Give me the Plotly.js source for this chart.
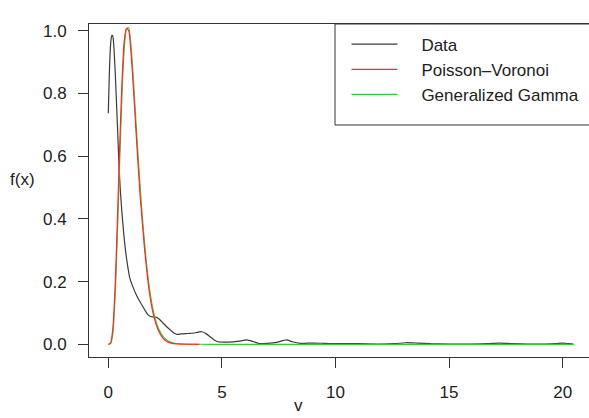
<!DOCTYPE html>
<html>
<head>
<meta charset="utf-8">
<script src="https://cdn.plot.ly/plotly-3.0.1.min.js"></script>
<style>html,body{margin:0;padding:0;background:#fff;}#chart{width:589px;height:418px;}</style>
</head>
<body>
<div id="chart"></div>
<script>
// Data (kernel density of observed volumes)
var dataX = [0, 0.04, 0.08, 0.12, 0.16, 0.19, 0.23, 0.31, 0.40, 0.47, 0.53, 0.59, 0.67, 0.74, 0.81, 0.95, 1.1, 1.25, 1.4, 1.54, 1.65, 1.76, 1.9, 2.0, 2.13, 2.25, 2.42, 2.57, 2.72, 2.87, 3.01, 3.2, 3.4, 3.6, 3.8, 3.95, 4.11, 4.3, 4.48, 4.66, 4.84, 5.1, 5.5, 5.8, 6.09, 6.4, 6.68, 7.0, 7.4, 7.85, 8.1, 8.44, 9.0, 9.5, 10, 11, 12, 12.6, 13.1, 13.6, 14.2, 15, 16, 16.7, 17.2, 17.8, 18.5, 19.2, 19.7, 20.0, 20.3, 20.46];
var dataY = [0.737, 0.85, 0.93, 0.972, 0.985, 0.984, 0.965, 0.858, 0.70, 0.572, 0.49, 0.43, 0.36, 0.31, 0.27, 0.21, 0.18, 0.155, 0.135, 0.118, 0.104, 0.093, 0.088, 0.087, 0.086, 0.08, 0.067, 0.056, 0.046, 0.037, 0.032, 0.033, 0.034, 0.035, 0.036, 0.039, 0.040, 0.034, 0.024, 0.014, 0.008, 0.007, 0.008, 0.010, 0.014, 0.008, 0.002, 0.003, 0.006, 0.014, 0.008, 0.003, 0.004, 0.003, 0.002, 0.002, 0.001, 0.002, 0.005, 0.004, 0.002, 0.001, 0.001, 0.002, 0.004, 0.002, 0.001, 0.001, 0.002, 0.004, 0.002, 0.001];

// Poisson-Voronoi fit
var pvX = [0, 0.1, 0.2, 0.3, 0.4, 0.5, 0.6, 0.7, 0.8, 0.9, 1.0, 1.1, 1.2, 1.3, 1.4, 1.5, 1.6, 1.7, 1.8, 1.9, 2.0, 2.2, 2.4, 2.6, 2.8, 3.0, 3.5, 4.0];
var pvY = [0, 0.004, 0.05, 0.185, 0.397, 0.631, 0.833, 0.967, 1.008, 1.0, 0.929, 0.822, 0.701, 0.585, 0.475, 0.385, 0.3, 0.23, 0.17, 0.125, 0.09, 0.045, 0.02, 0.008, 0.003, 0.0015, 0.0002, 0];

// Generalized Gamma fit
var ggX = [0, 0.1, 0.2, 0.3, 0.4, 0.5, 0.6, 0.7, 0.8, 0.9, 1.0, 1.1, 1.2, 1.3, 1.4, 1.5, 1.6, 1.7, 1.8, 1.9, 2.0, 2.2, 2.4, 2.6, 2.8, 3.0, 3.5, 4, 5, 6, 8, 10, 12, 14, 16, 18, 20, 20.5];
var ggY = [0, 0.002, 0.035, 0.15, 0.35, 0.58, 0.79, 0.94, 1.005, 1.01, 0.95, 0.85, 0.73, 0.615, 0.505, 0.405, 0.32, 0.245, 0.185, 0.137, 0.1, 0.052, 0.026, 0.012, 0.0055, 0.0025, 0.0004, 0.0001, 0, 0, 0, 0, 0, 0, 0, 0, 0, 0];

var names = ["Data", "Poisson\u2013Voronoi", "Generalized Gamma"];
var xTicks = [0, 5, 10, 15, 20];
var yTicks = [0, 0.2, 0.4, 0.6, 0.8, 1.0];
var yTickText = ["0.0", "0.2", "0.4", "0.6", "0.8", "1.0"];

var FONT = "Liberation Sans, Arial, Helvetica, sans-serif";
var PAD = "\u00a0\u00a0\u00a0\u00a0"; // gap between legend line and label

var traces = [
  {x: dataX, y: dataY, type: "scatter", mode: "lines", name: PAD + names[0], legendrank: 1,
   line: {color: "#3a3a3a", width: 1.2, shape: "spline", smoothing: 0.6}},
  {x: ggX, y: ggY, type: "scatter", mode: "lines", name: PAD + names[2], legendrank: 3,
   line: {color: "#3cc83c", width: 1.2, shape: "spline", smoothing: 0.6}},
  {x: pvX, y: pvY, type: "scatter", mode: "lines", name: PAD + names[1], legendrank: 2,
   line: {color: "#ff2a2a", width: 1.2, shape: "spline", smoothing: 0.6}}
];

var layout = {
  width: 589, height: 418,
  margin: {l: 89, r: 0, t: 24, b: 61},
  paper_bgcolor: "#fff", plot_bgcolor: "#fff",
  font: {family: FONT, size: 17, color: "#222"},
  showlegend: true,
  legend: {
    x: 0.515, xanchor: "left", y: 0.992, yanchor: "top",
    bgcolor: "rgba(0,0,0,0)", borderwidth: 0,
    font: {family: FONT, size: 17, color: "#222"},
    itemwidth: 46, traceorder: "normal"
  },
  xaxis: {
    range: [-0.85, 21.16], tickvals: xTicks, ticktext: xTicks.map(String),
    showgrid: false, zeroline: false,
    showline: true, mirror: true, linecolor: "#333", linewidth: 1,
    ticks: "outside", ticklen: 10, tickcolor: "#333", tickwidth: 1,
    ticklabelstandoff: 10,
    tickfont: {family: FONT, size: 17, color: "#222"}
  },
  yaxis: {
    range: [-0.0405, 1.0214], tickvals: yTicks, ticktext: yTickText,
    showgrid: false, zeroline: false,
    showline: true, mirror: false, linecolor: "#333", linewidth: 1,
    ticks: "outside", ticklen: 10, tickcolor: "#333", tickwidth: 1,
    ticklabelstandoff: 8,
    tickfont: {family: FONT, size: 17, color: "#222"}
  },
  shapes: [
    {type: "rect", xref: "paper", yref: "paper", x0: 0.492, x1: 1.05, y0: 0.6967, y1: 1.0,
     line: {color: "#333", width: 1}, fillcolor: "rgba(0,0,0,0)", layer: "above"}
  ],
  annotations: [
    {text: "f(x)", xref: "paper", yref: "paper", x: -0.134, y: 0.532,
     xanchor: "center", yanchor: "middle", showarrow: false,
     font: {family: FONT, size: 17, color: "#222"}},
    {text: "v", xref: "paper", yref: "paper", x: 0.418, y: -0.18,
     xanchor: "center", yanchor: "bottom", showarrow: false,
     font: {family: FONT, size: 17, color: "#222"}}
  ]
};

Plotly.newPlot("chart", traces, layout, {displayModeBar: false, staticPlot: true});
</script>
</body>
</html>
